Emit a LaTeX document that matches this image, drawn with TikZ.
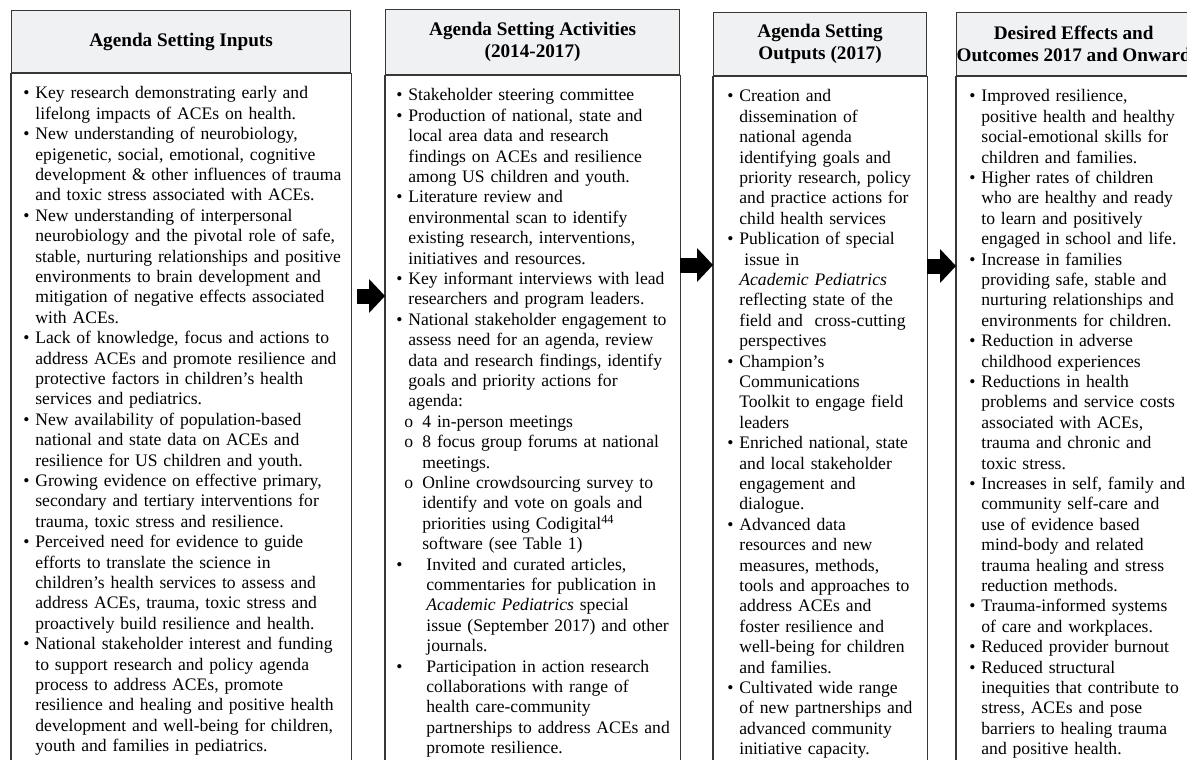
\documentclass[tikz,border=0pt]{standalone}
\usepackage{fontspec}
\setmainfont{Liberation Serif}
\usepackage{xcolor}
\usetikzlibrary{positioning, arrows.meta}

\definecolor{headfill}{RGB}{240,241,243}
\definecolor{framegray}{RGB}{55,55,55}

\setlength{\parskip}{0pt}
\newcommand{\headfont}{\fontsize{19.2}{22}\selectfont\bfseries}
\newcommand{\bodyfont}{\fontsize{17.6}{20.4}\selectfont}
% one list entry: label, hanging width, text (\\ keeps the hanging indent)
\newcommand{\listline}[3]{\begingroup\let\\\newline\hangindent=#2\hangafter=1\noindent\strut\makebox[#2][l]{#1}#3\par\endgroup}
\newcommand{\bitem}[1]{\listline{\textbullet}{12pt}{#1}}
\newcommand{\wideitem}[1]{\listline{\textbullet}{30pt}{#1}}
\newcommand{\oitem}[1]{\listline{\hspace{8pt}o}{26pt}{#1}}

\begin{document}
\begin{tikzpicture}[x=1pt, y=-1pt, thick]
    % Styles
    \tikzstyle{head} = [rectangle, draw=framegray, fill=headfill, line width=1.2pt, align=center, font=\headfont, inner sep=0pt, anchor=north west]
    \tikzstyle{body} = [inner sep=0pt, text width=400pt, font=\bodyfont, anchor=north west]
    \tikzstyle{frame} = [draw=framegray, line width=1.2pt]
    \tikzstyle{arrow} = [line width=15pt, -{Triangle[length=16pt, width=34pt, line width=0pt]}]

    \useasboundingbox (0,0) rectangle (1187,760);
    \clip (0,0) rectangle (1187,760);
    \coordinate (Bottom) at (0,800);

    % Header boxes
    \node (Inputs) [head, minimum width=339pt, minimum height=62pt] at (11,10) {Agenda Setting Inputs};
    \node (Activities) [head, minimum width=294pt, minimum height=65pt] at (385,9) {Agenda Setting Activities\\(2014-2017)};
    \node (Outputs) [head, minimum width=213pt, minimum height=63pt] at (713,12) {Agenda Setting\\Outputs (2017)};
    \node (Effects) [head, minimum width=233pt, minimum height=63pt] at (956,12) {Desired Effects and\\Outcomes 2017 and Onward};

    % Body frames
    \draw [frame] (Inputs.south west) rectangle (Inputs.east |- Bottom);
    \draw [frame] (Activities.south west) rectangle (Activities.east |- Bottom);
    \draw [frame] (Outputs.south west) rectangle (Outputs.east |- Bottom);
    \draw [frame] (Effects.south west) rectangle (Effects.east |- Bottom);

    % Body texts
    \node (InputsList) [body, below right=11pt and 12pt of Inputs.south west] {%
        \bitem{Key research demonstrating early and\\lifelong impacts of ACEs on health.}
        \bitem{New understanding of neurobiology,\\epigenetic, social, emotional, cognitive\\development \& other influences of trauma\\and toxic stress associated with ACEs.}
        \bitem{New understanding of interpersonal\\neurobiology and the pivotal role of safe,\\stable, nurturing relationships and positive\\environments to brain development and\\mitigation of negative effects associated\\with ACEs.}
        \bitem{Lack of knowledge, focus and actions to\\address ACEs and promote resilience and\\protective factors in children’s health\\services and pediatrics.}
        \bitem{New availability of population-based\\national and state data on ACEs and\\resilience for US children and youth.}
        \bitem{Growing evidence on effective primary,\\secondary and tertiary interventions for\\trauma, toxic stress and resilience.}
        \bitem{Perceived need for evidence to guide\\efforts to translate the science in\\children’s health services to assess and\\address ACEs, trauma, toxic stress and\\proactively build resilience and health.}
        \bitem{National stakeholder interest and funding\\to support research and policy agenda\\process to address ACEs, promote\\resilience and healing and positive health\\development and well-being for children,\\youth and families in pediatrics.}};

    \node (ActivitiesList) [body, below right=11pt and 11pt of Activities.south west] {%
        \bitem{Stakeholder steering committee}
        \bitem{Production of national, state and\\local area data and research\\findings on ACEs and resilience\\among US children and youth.}
        \bitem{Literature review and\\environmental scan to identify\\existing research, interventions,\\initiatives and resources.}
        \bitem{Key informant interviews with lead\\researchers and program leaders.}
        \bitem{National stakeholder engagement to\\assess need for an agenda, review\\data and research findings, identify\\goals and priority actions for\\agenda:}
        \oitem{4 in-person meetings}
        \oitem{8 focus group forums at national\\meetings.}
        \oitem{Online crowdsourcing survey to\\identify and vote on goals and\\priorities using Codigital\textsuperscript{44}\\software (see Table 1)}
        \wideitem{Invited and curated articles,\\commentaries for publication in\\\textit{Academic Pediatrics} special\\issue (September 2017) and other\\journals.}
        \wideitem{Participation in action research\\collaborations with range of\\health care-community\\partnerships to address ACEs and\\promote resilience.}};

    \node (OutputsList) [body, below right=11pt and 14pt of Outputs.south west] {%
        \bitem{Creation and\\dissemination of\\national agenda\\identifying goals and\\priority research, policy\\and practice actions for\\child health services}
        \bitem{Publication of special\\\hspace*{5pt}issue in\\\textit{Academic Pediatrics}\\reflecting state of the\\field and\ \ cross-cutting\\perspectives}
        \bitem{Champion’s\\Communications\\Toolkit to engage field\\leaders}
        \bitem{Enriched national, state\\and local stakeholder\\engagement and\\dialogue.}
        \bitem{Advanced data\\resources and new\\measures, methods,\\tools and approaches to\\address ACEs and\\foster resilience and\\well-being for children\\and families.}
        \bitem{Cultivated wide range\\of new partnerships and\\advanced community\\initiative capacity.}};

    \node (EffectsList) [body, below right=11pt and 13pt of Effects.south west] {%
        \bitem{Improved resilience,\\positive health and healthy\\social-emotional skills for\\children and families.}
        \bitem{Higher rates of children\\who are healthy and ready\\to learn and positively\\engaged in school and life.}
        \bitem{Increase in families\\providing safe, stable and\\nurturing relationships and\\environments for children.}
        \bitem{Reduction in adverse\\childhood experiences}
        \bitem{Reductions in health\\problems and service costs\\associated with ACEs,\\trauma and chronic and\\toxic stress.}
        \bitem{Increases in self, family and\\community self-care and\\use of evidence based\\mind-body and related\\trauma healing and stress\\reduction methods.}
        \bitem{Trauma-informed systems\\of care and workplaces.}
        \bitem{Reduced provider burnout}
        \bitem{Reduced structural\\inequities that contribute to\\stress, ACEs and pose\\barriers to healing trauma\\and positive health.}};

    % Flow arrows
    \coordinate (Level1) at (0,296);
    \coordinate (Level2) at (0,265);
    \coordinate (Level3) at (0,266);
    \draw [arrow, shorten <=6pt] (Inputs.east |- Level1) -- (Activities.west |- Level1);
    \draw [arrow] (Activities.east |- Level2) -- (Outputs.west |- Level2);
    \draw [arrow] (Outputs.east |- Level3) -- (Effects.west |- Level3);

\end{tikzpicture}
\end{document}
